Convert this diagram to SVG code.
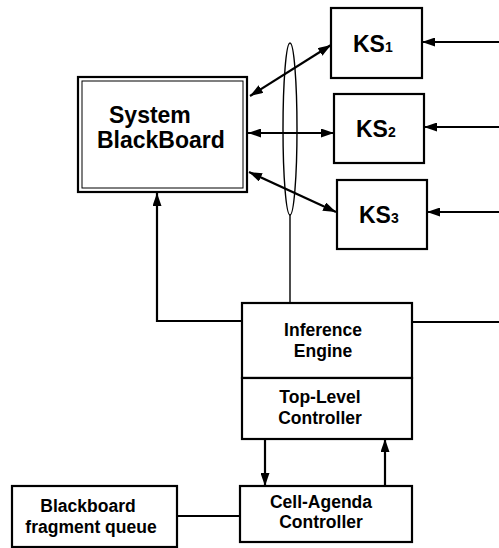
<svg xmlns="http://www.w3.org/2000/svg" width="499" height="548" viewBox="0 0 499 548">
  <style>
    .box { fill: #fff; stroke: #000; stroke-width: 2.2; }
    .inner { fill: none; stroke: #000; stroke-width: 1; }
    .big { font-family: "Liberation Sans", Arial, sans-serif; font-weight: bold; font-size: 23px; fill: #000; }
    .sub { font-size: 14px; }
    .lbl { font-family: "Liberation Sans", Arial, sans-serif; font-weight: bold; font-size: 17.5px; fill: #000; text-anchor: middle; }
    .wire { fill: none; stroke: #000; stroke-width: 2.2; }
    .thin { fill: none; stroke: #000; stroke-width: 1.4; }
  </style>
  <defs>
    <marker id="arrow" viewBox="0 0 13 9" refX="13" refY="4.5" markerWidth="13" markerHeight="9" markerUnits="userSpaceOnUse" orient="auto-start-reverse">
      <path d="M0,0 L13,4.5 L0,9 z" fill="#000"/>
    </marker>
  </defs>

  <rect width="499" height="548" fill="#fff"/>

  <!-- connectors -->
  <g id="connectors">
    <!-- knowledge sources exchanging with the blackboard -->
    <line class="wire" x1="250" y1="96" x2="331" y2="45" marker-start="url(#arrow)" marker-end="url(#arrow)"/>
    <line class="wire" x1="248" y1="133" x2="334" y2="133" marker-start="url(#arrow)" marker-end="url(#arrow)"/>
    <line class="wire" x1="249" y1="172" x2="336" y2="212" marker-start="url(#arrow)" marker-end="url(#arrow)"/>
    <!-- inputs arriving from the right -->
    <line class="wire" x1="499" y1="42" x2="422" y2="42" marker-end="url(#arrow)"/>
    <line class="wire" x1="499" y1="127" x2="424" y2="127" marker-end="url(#arrow)"/>
    <line class="wire" x1="499" y1="212" x2="427" y2="212" marker-end="url(#arrow)"/>
    <!-- bundle of KS links tied to the inference engine -->
    <ellipse class="thin" cx="290" cy="129" rx="7" ry="86"/>
    <line class="thin" x1="290" y1="215" x2="290" y2="303"/>
    <!-- inference engine back to the blackboard -->
    <polyline class="wire" points="242,321 157,321 157,193" marker-end="url(#arrow)"/>
    <line class="wire" x1="412" y1="322" x2="499" y2="322"/>
    <!-- controller loop -->
    <line class="wire" x1="265" y1="439" x2="265" y2="486" marker-end="url(#arrow)"/>
    <line class="wire" x1="385" y1="486" x2="385" y2="439" marker-end="url(#arrow)"/>
    <line class="wire" x1="177" y1="516" x2="240" y2="516"/>
  </g>

  <g id="blackboard">
    <rect class="box" x="78" y="77" width="169" height="115"/>
    <rect class="inner" x="82" y="81" width="161" height="107"/>
    <text class="big" x="109" y="123">System</text>
    <text class="big" x="97" y="148">BlackBoard</text>
  </g>

  <g id="ks1">
    <rect class="box" x="331" y="8" width="91" height="70"/>
    <text class="big" x="353" y="52">KS<tspan class="sub">1</tspan></text>
  </g>

  <g id="ks2">
    <rect class="box" x="334" y="94" width="90" height="69"/>
    <text class="big" x="356" y="137">KS<tspan class="sub">2</tspan></text>
  </g>

  <g id="ks3">
    <rect class="box" x="337" y="180" width="90" height="69"/>
    <text class="big" x="359" y="223">KS<tspan class="sub">3</tspan></text>
  </g>

  <g id="inference-engine">
    <rect class="box" x="242" y="303" width="170" height="75"/>
    <text class="lbl" x="323" y="336">Inference</text>
    <text class="lbl" x="323" y="357">Engine</text>
  </g>

  <g id="top-level-controller">
    <rect class="box" x="242" y="378" width="170" height="61"/>
    <text class="lbl" x="320" y="403">Top-Level</text>
    <text class="lbl" x="320" y="424">Controller</text>
  </g>

  <g id="cell-agenda-controller">
    <rect class="box" x="240" y="486" width="172" height="56"/>
    <text class="lbl" x="321" y="508">Cell-Agenda</text>
    <text class="lbl" x="321" y="528">Controller</text>
  </g>

  <g id="fragment-queue">
    <rect class="box" x="12" y="486" width="165" height="61"/>
    <text class="lbl" x="88" y="512">Blackboard</text>
    <text class="lbl" x="91" y="533">fragment queue</text>
  </g>
</svg>
